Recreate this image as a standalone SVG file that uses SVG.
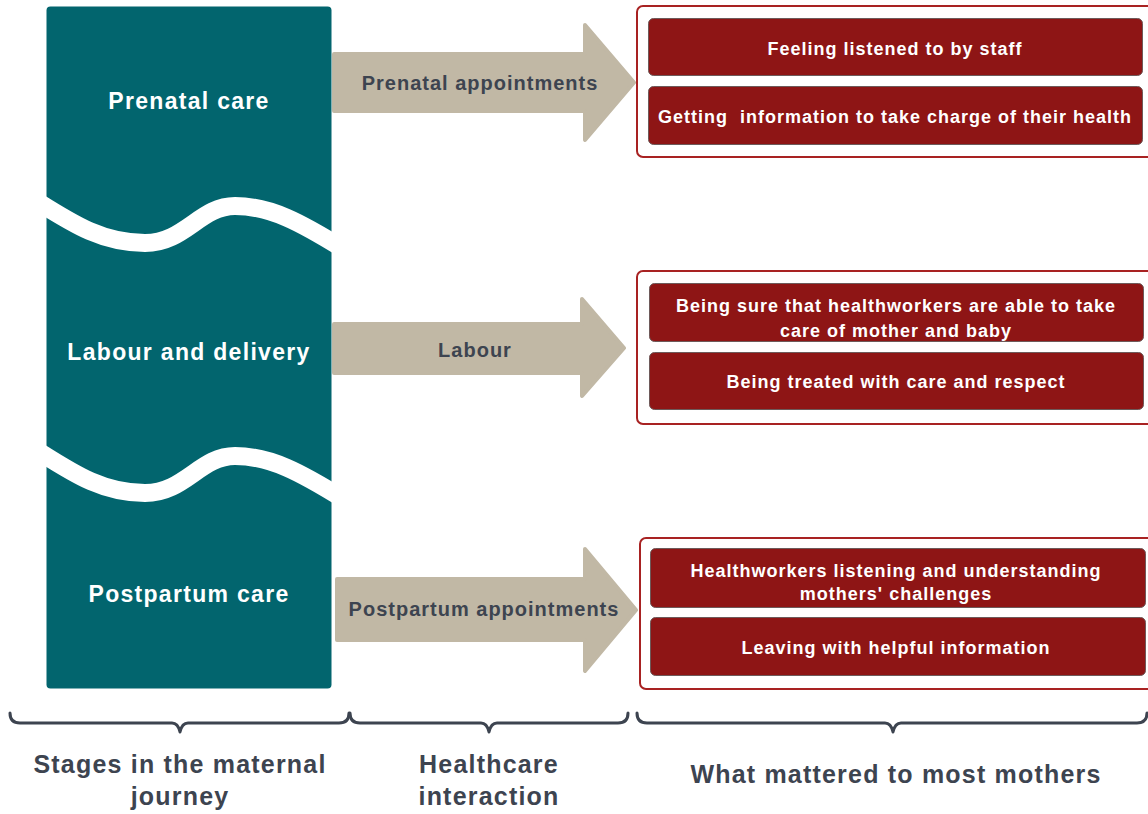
<svg xmlns="http://www.w3.org/2000/svg" width="1148" height="814" viewBox="0 0 1148 814">
  <style>
    text { font-family: "Liberation Sans", Arial, sans-serif; font-weight: bold; text-anchor: middle; }
    .stage { fill: #ffffff; font-size: 23px; letter-spacing: 1.3px; }
    .step { fill: #3d4450; font-size: 20px; letter-spacing: 1px; }
    .item { fill: #ffffff; font-size: 18px; letter-spacing: 1px; }
    .axis { fill: #3d4450; font-size: 25px; letter-spacing: 1.2px; }
    .column { fill: #02656e; }
    .wave { fill: none; stroke: #ffffff; stroke-width: 18; }
    .arrow { fill: #c1b8a5; stroke: #c1b8a5; stroke-width: 4; stroke-linejoin: round; }
    .group { fill: #ffffff; stroke: #a82222; stroke-width: 2; }
    .box { fill: #8e1515; stroke: #6e5a5a; stroke-width: 1; }
    .brace { fill: none; stroke: #3d4450; stroke-width: 3; stroke-linecap: round; stroke-linejoin: round; }
  </style>

  <!-- Stages column: one teal band cut by two white waves -->
  <g id="stages">
    <rect class="column" x="46.5" y="6.5" width="285" height="682" rx="4"/>
    <path class="wave" d="M30,197 C70,222 100,243 145,243 C185,243 200,206 235,206 C270,206 300,222 345,250"/>
    <path class="wave" d="M30,446 C70,471 100,493 145,493 C185,493 200,456 235,456 C270,456 300,472 345,500"/>
  </g>
  <g id="stage-prenatal">
    <text class="stage" x="189" y="109">Prenatal care</text>
  </g>
  <g id="stage-labour">
    <text class="stage" x="189" y="360">Labour and delivery</text>
  </g>
  <g id="stage-postpartum">
    <text class="stage" x="189" y="602">Postpartum care</text>
  </g>

  <!-- Healthcare interaction arrows -->
  <g id="connectors">
    <polygon class="arrow" points="334,54 585,54 585,25 634,82.5 585,140 585,111 334,111"/>
    <polygon class="arrow" points="334,324 582,324 582,299 624,348 582,396 582,373 334,373"/>
    <polygon class="arrow" points="337,579 585,579 585,549 636,610 585,671 585,640 337,640"/>
  </g>
  <g id="interaction-prenatal">
    <text class="step" x="480" y="90">Prenatal appointments</text>
  </g>
  <g id="interaction-labour">
    <text class="step" x="475" y="357">Labour</text>
  </g>
  <g id="interaction-postpartum">
    <text class="step" x="484" y="616">Postpartum appointments</text>
  </g>

  <!-- What mattered: prenatal -->
  <g id="mattered-prenatal">
    <rect class="group" x="637" y="6" width="520" height="151" rx="6"/>
    <rect class="box" x="648.5" y="18.5" width="494" height="57" rx="5"/>
    <text class="item" x="895" y="55">Feeling listened to by staff</text>
    <rect class="box" x="648.5" y="86.5" width="494" height="58" rx="5"/>
    <text class="item" x="895" y="123" style="white-space:pre">Getting  information to take charge of their health</text>
  </g>

  <!-- What mattered: labour -->
  <g id="mattered-labour">
    <rect class="group" x="637" y="271" width="520" height="153" rx="6"/>
    <rect class="box" x="649.5" y="283.5" width="494" height="58" rx="5"/>
    <text class="item" x="896" y="312">Being sure that healthworkers are able to take</text>
    <text class="item" x="896" y="337">care of mother and baby</text>
    <rect class="box" x="649.5" y="352.5" width="494" height="57" rx="5"/>
    <text class="item" x="896" y="388">Being treated with care and respect</text>
  </g>

  <!-- What mattered: postpartum -->
  <g id="mattered-postpartum">
    <rect class="group" x="640" y="538" width="520" height="151" rx="6"/>
    <rect class="box" x="650.5" y="548.5" width="495" height="59" rx="5"/>
    <text class="item" x="896" y="577">Healthworkers listening and understanding</text>
    <text class="item" x="896" y="600">mothers' challenges</text>
    <rect class="box" x="650.5" y="617.5" width="495" height="58" rx="5"/>
    <text class="item" x="896" y="654">Leaving with helpful information</text>
  </g>

  <!-- Column braces and headings -->
  <g id="axis-stages">
    <path class="brace" d="M10,713 Q10,723 20,723 L172,723 Q178,723 180,732 Q182,723 188,723 L339,723 Q349,723 349,713"/>
    <text class="axis" x="180" y="773">Stages in the maternal</text>
    <text class="axis" x="180" y="805">journey</text>
  </g>
  <g id="axis-interaction">
    <path class="brace" d="M350,713 Q350,723 360,723 L481,723 Q487,723 489,732 Q491,723 497,723 L618,723 Q628,723 628,713"/>
    <text class="axis" x="489" y="773">Healthcare</text>
    <text class="axis" x="489" y="805">interaction</text>
  </g>
  <g id="axis-mattered">
    <path class="brace" d="M637,713 Q637,723 647,723 L885,723 Q891,723 893,732 Q895,723 901,723 L1137,723 Q1147,723 1147,713"/>
    <text class="axis" x="896" y="783">What mattered to most mothers</text>
  </g>
</svg>
